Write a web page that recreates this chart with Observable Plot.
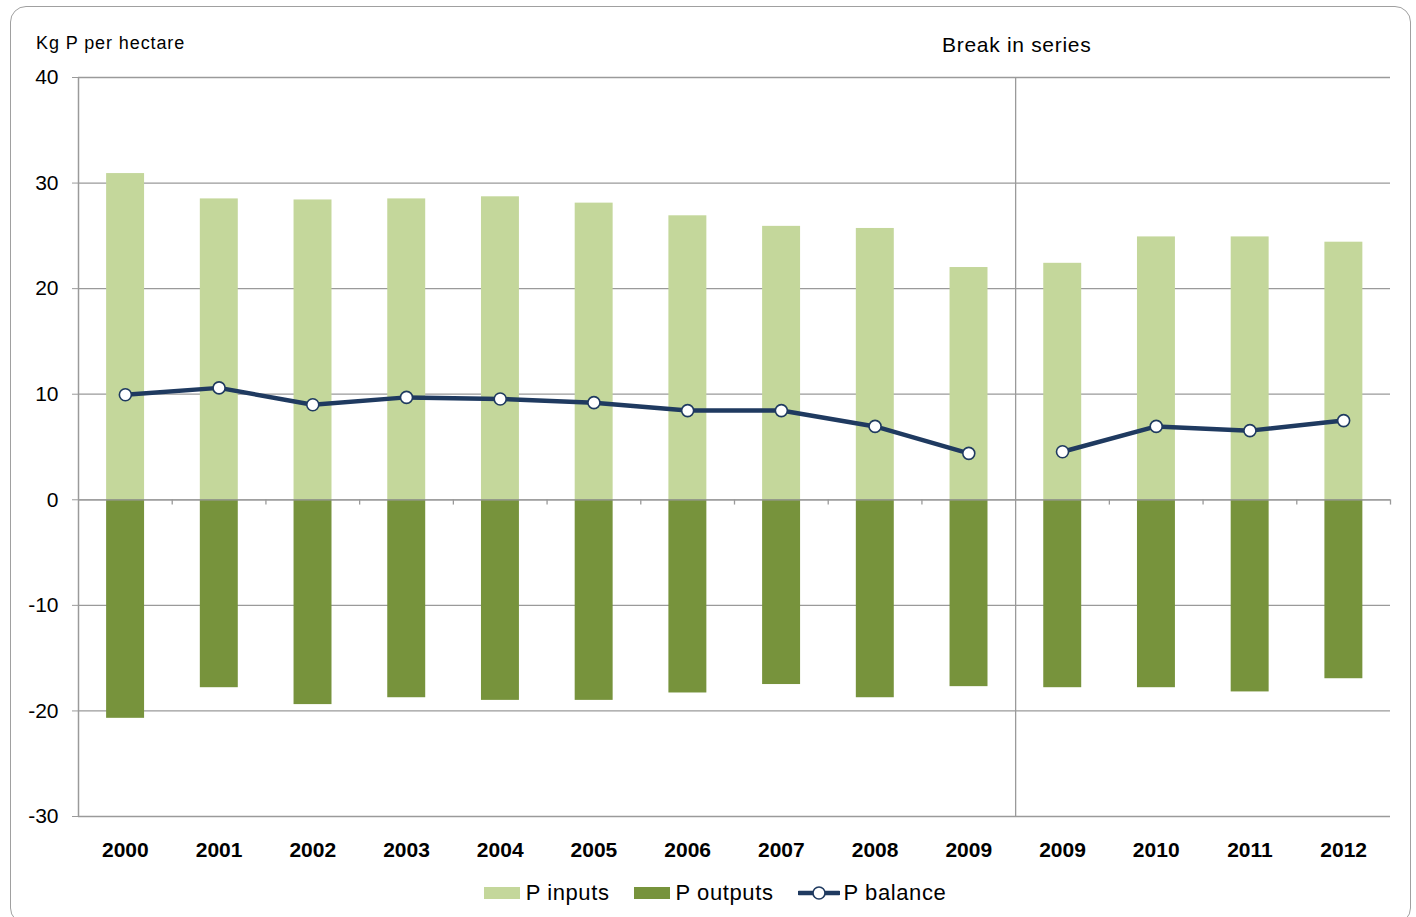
<!DOCTYPE html>
<html>
<head>
<meta charset="utf-8">
<script src="https://cdn.jsdelivr.net/npm/d3@7"></script>
<script src="https://cdn.jsdelivr.net/npm/@observablehq/plot@0.6"></script>
<style>
  html, body { margin: 0; padding: 0; background: #fff; }
  #wrap { position: relative; width: 1416px; height: 917px; font-family: "Liberation Sans", Arial, sans-serif; overflow: hidden; }
  #frame { position: absolute; left: 10px; top: 6px; width: 1401px; height: 918px; border: 1.5px solid #a0a0a0; border-radius: 16px; box-sizing: border-box; }
  #chart { position: absolute; left: 0; top: 0; }
  .lbl { position: absolute; color: #000; white-space: nowrap; }
  #legend { position: absolute; top: 880px; left: 7px; width: 1416px; display: flex; justify-content: center; align-items: center; font-size: 22px; color: #000; letter-spacing: 0.6px; }
  #legend .item { display: flex; align-items: center; margin: 0 12px; }
  #legend .sw { display: inline-block; width: 36px; height: 12px; margin-right: 6px; }
</style>
</head>
<body>
<div id="wrap">
  <div id="frame"></div>
  <div id="chart"></div>
  <div class="lbl" style="left:36px; top:33px; font-size:18px; letter-spacing:0.9px;">Kg P per hectare</div>
  <div class="lbl" style="left:942px; top:33px; font-size:21px; letter-spacing:0.7px;">Break in series</div>
  <div id="legend"></div>
</div>
<script>
const years   = ["2000","2001","2002","2003","2004","2005","2006","2007","2008","2009","2009","2010","2011","2012"];
const inputs  = [30.9, 28.5, 28.4, 28.5, 28.7, 28.1, 26.9, 25.9, 25.7, 22.0, 22.4, 24.9, 24.9, 24.4];
const outputs = [-20.7, -17.8, -19.4, -18.75, -19.0, -19.0, -18.3, -17.5, -18.75, -17.7, -17.8, -17.8, -18.2, -16.95];
const balance = [9.95, 10.6, 9.0, 9.7, 9.55, 9.2, 8.45, 8.45, 6.95, 4.4, 4.55, 6.95, 6.55, 7.5];
const breakIndex = 10;          // series break between the two 2009 values
const yTicks = [-30, -20, -10, 0, 10, 20, 30, 40];

const colInputs = "#c4d79b";
const colOutputs = "#77933c";
const colBalance = "#1f3a60";
const gridCol = "#9a9a9a";

const rows = years.map((y, i) => ({
  i, year: y, inputs: inputs[i], outputs: outputs[i], balance: balance[i],
  seg: i < breakIndex ? 0 : 1
}));
const boundaries = d3.range(1, years.length + 1).filter(b => b !== breakIndex);

const plot = Plot.plot({
  width: 1416,
  height: 870,
  marginLeft: 78,
  marginRight: 26,
  marginTop: 77,
  marginBottom: 54,
  style: { fontFamily: "Liberation Sans, Arial, sans-serif", background: "transparent", overflow: "visible" },
  x: { type: "linear", domain: [0, years.length] },
  y: { domain: [-30, 40] },
  marks: [
    Plot.ruleY(yTicks, { stroke: gridCol, strokeWidth: 1.3 }),
    Plot.rectY(rows, { x1: d => d.i + 0.3, x2: d => d.i + 0.705, y1: 0, y2: "inputs", fill: colInputs }),
    Plot.rectY(rows, { x1: d => d.i + 0.3, x2: d => d.i + 0.705, y1: 0, y2: "outputs", fill: colOutputs }),
    Plot.ruleY([0], { stroke: gridCol, strokeWidth: 1.3 }),
    Plot.ruleX(boundaries, { x: d => d, y1: 0, y2: -0.5, stroke: gridCol, strokeWidth: 1.3 }),
    Plot.ruleX([0], { stroke: gridCol, strokeWidth: 1.5 }),
    Plot.ruleX([breakIndex], { stroke: gridCol, strokeWidth: 1.3 }),
    Plot.axisY({ ticks: yTicks, tickSize: 6, tickPadding: 14, fontSize: 21, stroke: gridCol, tickFormat: d => String(d), label: null, color: "#000" }),
    Plot.axisX({ ticks: d3.range(years.length).map(i => i + 0.5), tickSize: 0, tickPadding: 26, dx: 0,
      tickFormat: v => years[Math.floor(v)], fontSize: 21, fontWeight: "bold", label: null,
      style: { letterSpacing: "1.6px" } }),
    Plot.line(rows, { x: d => d.i + 0.5, y: "balance", z: "seg", stroke: colBalance, strokeWidth: 4.5 }),
    Plot.dot(rows, { x: d => d.i + 0.5, y: "balance", r: 6, fill: "#fff", stroke: colBalance, strokeWidth: 1.6 })
  ]
});
document.getElementById("chart").appendChild(plot);

const legendItems = [
  { label: "P inputs", type: "rect", color: colInputs },
  { label: "P outputs", type: "rect", color: colOutputs },
  { label: "P balance", type: "line", color: colBalance }
];
const legend = document.getElementById("legend");
legendItems.forEach(it => {
  const item = document.createElement("div");
  item.className = "item";
  if (it.type === "rect") {
    const sw = document.createElement("span");
    sw.className = "sw";
    sw.style.background = it.color;
    item.appendChild(sw);
  } else {
    const ns = "http://www.w3.org/2000/svg";
    const svg = document.createElementNS(ns, "svg");
    svg.setAttribute("width", "42"); svg.setAttribute("height", "16");
    svg.style.marginRight = "4px";
    const ln = document.createElementNS(ns, "line");
    ln.setAttribute("x1", "1"); ln.setAttribute("x2", "41"); ln.setAttribute("y1", "8"); ln.setAttribute("y2", "8");
    ln.setAttribute("stroke", it.color); ln.setAttribute("stroke-width", "4.5"); ln.setAttribute("stroke-linecap", "round");
    const c = document.createElementNS(ns, "circle");
    c.setAttribute("cx", "21"); c.setAttribute("cy", "8"); c.setAttribute("r", "6");
    c.setAttribute("fill", "#fff"); c.setAttribute("stroke", it.color); c.setAttribute("stroke-width", "1.6");
    svg.appendChild(ln); svg.appendChild(c);
    item.appendChild(svg);
  }
  const t = document.createElement("span");
  t.textContent = it.label;
  item.appendChild(t);
  legend.appendChild(item);
});
</script>
</body>
</html>
